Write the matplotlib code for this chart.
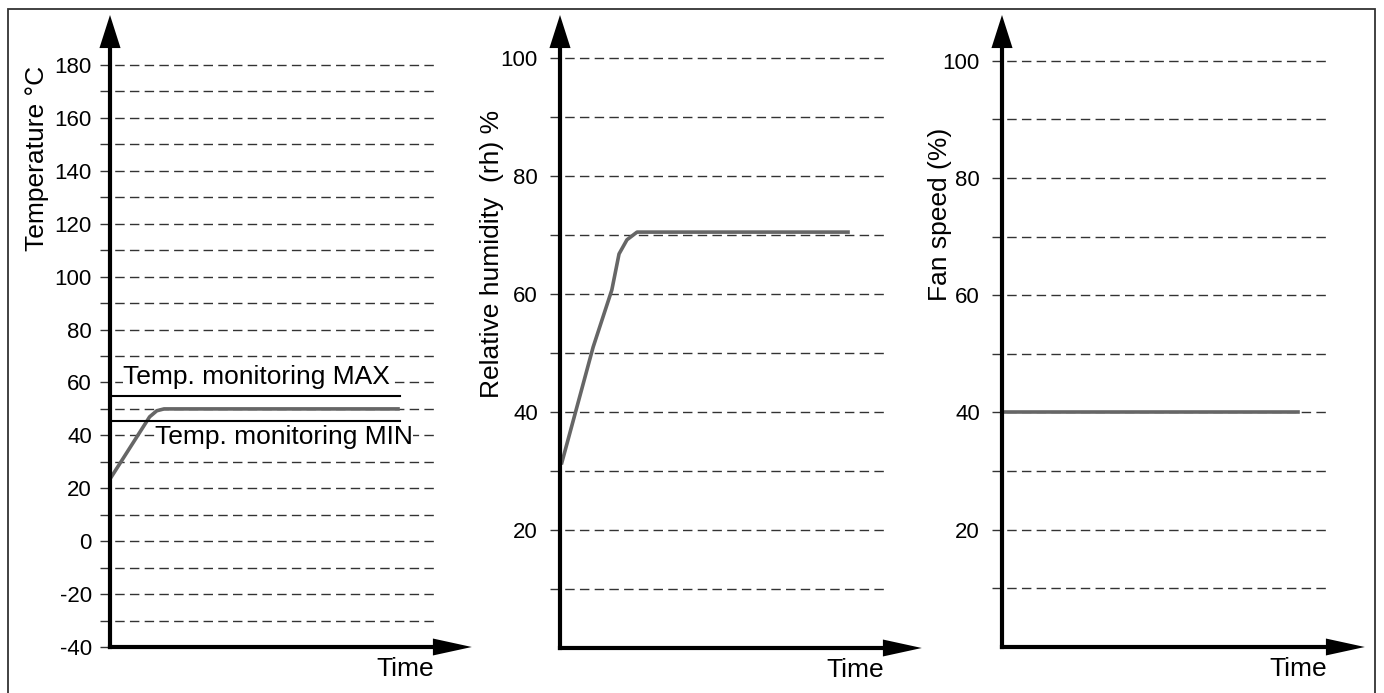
"""
Sketch of the climate test profile: temperature, humidity and fan speed over time.
"""

import matplotlib
matplotlib.use("Agg")
import matplotlib.pyplot as plt
from matplotlib.patches import Rectangle

W, H = 1384, 693

# Temperature panel
TEMP_TIME = [0, 11, 13, 15, 80]
TEMP_VALUES = [23.5, 47, 49.3, 50, 50]
MON_TIME = [0.8, 80.5]
TEMP_MAX = 55
TEMP_MIN = 45.5
TEMP_TICKS = [-40, -20, 0, 20, 40, 60, 80, 100, 120, 140, 160, 180]
TEMP_GRID = [-40, -30, -20, -10, 0, 10, 20, 30, 40, 50, 60, 70, 80, 90,
             100, 110, 120, 130, 140, 150, 160, 170, 180]

# Humidity panel
HUM_TIME = [0.5, 9.2, 14.4, 16.4, 18.6, 21.4, 80]
HUM_VALUES = [31.4, 51, 60.7, 66.8, 69.2, 70.5, 70.5]

# Fan panel
FAN_TIME = [0, 82]
FAN_VALUES = [40, 40]

PCT_TICKS = [20, 40, 60, 80, 100]
PCT_GRID = [10, 20, 30, 40, 50, 60, 70, 80, 90, 100]

CURVE_COLOR = "#666666"
GRID_COLOR = "#333333"
LABEL_SIZE = 19
TICK_SIZE = 16
GRID_END = 90
X_TIP = 100.5


def px_axes(fig, left, top, right, bottom):
    """Axes placed by pixel edges of the figure."""
    return fig.add_axes([left / W, 1 - bottom / H, (right - left) / W, (bottom - top) / H])


def arrow(ax, start, tip, head_length, head_width):
    """Thick axis line with a filled, unstroked head so the tip lands exactly."""
    ax.annotate("", xy=tip, xytext=start, annotation_clip=False,
                arrowprops=dict(arrowstyle="-", lw=3, color="black",
                                shrinkA=0, shrinkB=head_length * 0.8,
                                capstyle="projecting"),
                zorder=5)
    ax.annotate("", xy=tip, xytext=start, annotation_clip=False,
                arrowprops=dict(arrowstyle=f"-|>,head_length={head_length},head_width={head_width}",
                                mutation_scale=1, lw=0, color="black",
                                shrinkA=0, shrinkB=0),
                zorder=6)


def setup_panel(ax, ylim, grid, ticks, pad):
    ax.set_xlim(0, 100)
    ax.set_ylim(*ylim)
    ax.patch.set_visible(False)
    for sp in ax.spines.values():
        sp.set_visible(False)
    ax.set_xticks([])
    ax.set_yticks(ticks, [str(t) for t in ticks])
    ax.tick_params(axis="y", length=0, pad=pad, labelsize=TICK_SIZE)
    ax.hlines(grid, -2.8, GRID_END, colors=GRID_COLOR, linewidth=1.0,
              linestyles=(0, (6.8, 3.8)), clip_on=False, zorder=1)
    y0, y1 = ylim
    arrow(ax, (0, y0), (0, y1), 23.8, 7.6)
    arrow(ax, (0, y0), (X_TIP, y0), 28, 6.1)
    ax.annotate("Time", xy=(GRID_END, y0), xytext=(0, -7), textcoords="offset points",
                ha="right", va="top", fontsize=LABEL_SIZE, annotation_clip=False)


def ylabel(fig, text, x, y):
    fig.text(x / W, 1 - y / H, text, rotation=90, ha="center", va="center",
             fontsize=LABEL_SIZE)


def main():
    plt.rcParams.update({
        "font.family": ["Liberation Sans", "DejaVu Sans"],
        "lines.scale_dashes": False,
    })
    fig = plt.figure(figsize=(W / 100, H / 100), dpi=100)
    fig.add_artist(Rectangle((8 / W, -0.05), (1375 - 8) / W, 1.05 - 9 / H,
                             transform=fig.transFigure, fill=False,
                             edgecolor="#333333", linewidth=1.3))

    # Temperature
    ax1 = px_axes(fig, 110, 15, 470, 647)
    setup_panel(ax1, (-40, 198.9), TEMP_GRID, TEMP_TICKS, 13)
    ax1.plot(TEMP_TIME, TEMP_VALUES, color=CURVE_COLOR, lw=2.6,
             solid_joinstyle="round", zorder=3)
    ax1.plot(MON_TIME, [TEMP_MAX, TEMP_MAX], color="black", lw=1.5, zorder=3)
    ax1.plot(MON_TIME, [TEMP_MIN, TEMP_MIN], color="black", lw=1.5, zorder=3)
    ax1.text(3.6, 59.5, "Temp. monitoring MAX", fontsize=LABEL_SIZE,
             ha="left", va="baseline", zorder=4,
             bbox=dict(facecolor="white", edgecolor="none", pad=0))
    ax1.text(12.5, 36.6, "Temp. monitoring MIN", fontsize=LABEL_SIZE,
             ha="left", va="baseline", zorder=4,
             bbox=dict(facecolor="white", edgecolor="none", pad=0))
    ylabel(fig, "Temperature °C", 37, 158)

    # Humidity
    ax2 = px_axes(fig, 560, 15, 920, 648)
    setup_panel(ax2, (0, 107.3), PCT_GRID, PCT_TICKS, 16)
    ax2.plot(HUM_TIME, HUM_VALUES, color=CURVE_COLOR, lw=2.6,
             solid_joinstyle="round", zorder=3)
    ylabel(fig, "Relative humidity  (rh) %", 492, 254)

    # Fan speed
    ax3 = px_axes(fig, 1002, 15, 1363, 647)
    setup_panel(ax3, (0, 107.8), PCT_GRID, PCT_TICKS, 16)
    ax3.plot(FAN_TIME, FAN_VALUES, color=CURVE_COLOR, lw=2.6, zorder=3)
    ylabel(fig, "Fan speed (%)", 940, 214)

    fig.savefig("out.png", dpi=100)


if __name__ == "__main__":
    main()
